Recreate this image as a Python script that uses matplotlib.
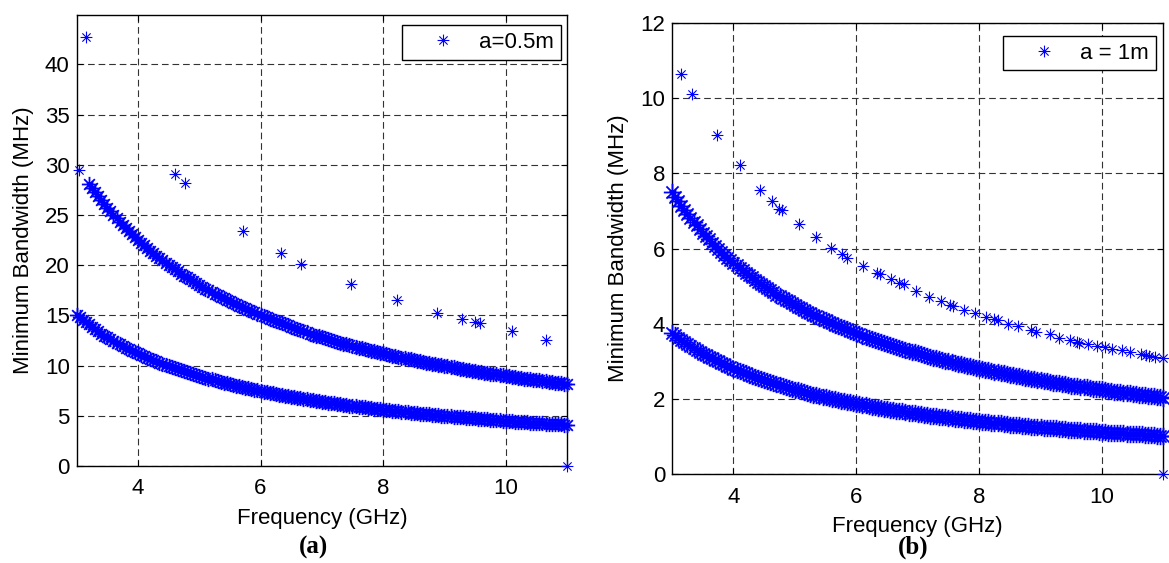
import matplotlib
matplotlib.use("Agg")
import matplotlib.pyplot as plt
from matplotlib.path import Path

# sampled frequencies (GHz) for the dense bands
freq = [3.0, 3.1, 3.2, 3.3, 3.4, 3.5, 3.6, 3.7, 3.8, 3.9,
        4.0, 4.1, 4.2, 4.3, 4.4, 4.5, 4.6, 4.7, 4.8, 4.9,
        5.0, 5.1, 5.2, 5.3, 5.4, 5.5, 5.6, 5.7, 5.8, 5.9,
        6.0, 6.1, 6.2, 6.3, 6.4, 6.5, 6.6, 6.7, 6.8, 6.9,
        7.0, 7.1, 7.2, 7.3, 7.4, 7.5, 7.6, 7.7, 7.8, 7.9,
        8.0, 8.1, 8.2, 8.3, 8.4, 8.5, 8.6, 8.7, 8.8, 8.9,
        9.0, 9.1, 9.2, 9.3, 9.4, 9.5, 9.6, 9.7, 9.8, 9.9,
        10.0, 10.1, 10.2, 10.3, 10.4, 10.5, 10.6, 10.7, 10.8, 10.9,
        11.0]
freq_mid = [3.05, 3.15, 3.25, 3.35, 3.45, 3.55, 3.65, 3.75, 3.85, 3.95,
            4.05, 4.15, 4.25, 4.35, 4.45, 4.55, 4.65, 4.75, 4.85, 4.95,
            5.05, 5.15, 5.25, 5.35, 5.45, 5.55, 5.65, 5.75, 5.85, 5.95,
            6.05, 6.15, 6.25, 6.35, 6.45, 6.55, 6.65, 6.75, 6.85, 6.95,
            7.05, 7.15, 7.25, 7.35, 7.45, 7.55, 7.65, 7.75, 7.85, 7.95,
            8.05, 8.15, 8.25, 8.35, 8.45, 8.55, 8.65, 8.75, 8.85, 8.95,
            9.05, 9.15, 9.25, 9.35, 9.45, 9.55, 9.65, 9.75, 9.85, 9.95,
            10.05, 10.15, 10.25, 10.35, 10.45, 10.55, 10.65, 10.75, 10.85, 10.95]

# (a) a = 0.5 m
bw_a_low = [15.0, 14.5, 14.1, 13.6, 13.2, 12.9, 12.5, 12.2, 11.8, 11.5,
            11.3, 11.0, 10.7, 10.5, 10.2, 10.0, 9.8, 9.6, 9.4, 9.2,
            9.0, 8.8, 8.7, 8.5, 8.3, 8.2, 8.0, 7.9, 7.8, 7.6,
            7.5, 7.4, 7.3, 7.1, 7.0, 6.9, 6.8, 6.7, 6.6, 6.5,
            6.4, 6.3, 6.25, 6.2, 6.1, 6.0, 5.9, 5.85, 5.8, 5.7,
            5.6, 5.55, 5.5, 5.4, 5.35, 5.3, 5.2, 5.2, 5.1, 5.05,
            5.0, 4.95, 4.9, 4.85, 4.8, 4.75, 4.7, 4.65, 4.6, 4.55,
            4.5, 4.45, 4.4, 4.35, 4.3, 4.3, 4.25, 4.2, 4.15, 4.15,
            4.1]
bw_a_low_mid = [14.8, 14.3, 13.8, 13.4, 13.0, 12.7, 12.3, 12.0, 11.7, 11.4,
                11.1, 10.8, 10.6, 10.3, 10.1, 9.9, 9.7, 9.5, 9.3, 9.1,
                8.9, 8.7, 8.6, 8.4, 8.3, 8.1, 8.0, 7.8, 7.7, 7.6,
                7.4, 7.3, 7.2, 7.1, 7.0, 6.9, 6.8, 6.7, 6.6, 6.5,
                6.4, 6.3, 6.2, 6.1, 6.0, 6.0, 5.9, 5.8, 5.7, 5.7,
                5.6, 5.5, 5.45, 5.4, 5.3, 5.25, 5.2, 5.15, 5.1, 5.0,
                5.0, 4.9, 4.85, 4.8, 4.75, 4.7, 4.65, 4.6, 4.55, 4.5,
                4.5, 4.4, 4.4, 4.35, 4.3, 4.25, 4.2, 4.2, 4.15, 4.1]
# upper band starts at 3.2 GHz
bw_a_up = [28.1, 27.3, 26.5, 25.7, 25.0, 24.3, 23.7, 23.1,
           22.5, 22.0, 21.4, 20.9, 20.5, 20.0, 19.6, 19.1, 18.8, 18.4,
           18.0, 17.6, 17.3, 17.0, 16.7, 16.4, 16.1, 15.8, 15.5, 15.3,
           15.0, 14.8, 14.5, 14.3, 14.1, 13.8, 13.6, 13.4, 13.2, 13.0,
           12.9, 12.7, 12.5, 12.3, 12.2, 12.0, 11.8, 11.7, 11.5, 11.4,
           11.25, 11.1, 11.0, 10.8, 10.7, 10.6, 10.5, 10.3, 10.2, 10.1,
           10.0, 9.9, 9.8, 9.7, 9.6, 9.5, 9.4, 9.3, 9.2, 9.1,
           9.0, 8.9, 8.8, 8.7, 8.65, 8.6, 8.5, 8.4, 8.3, 8.25,
           8.2]
bw_a_up_mid = [27.7, 26.9, 26.1, 25.4, 24.7, 24.0, 23.4, 22.8,
               22.2, 21.7, 21.2, 20.7, 20.2, 19.8, 19.4, 18.9, 18.6, 18.2,
               17.8, 17.5, 17.1, 16.8, 16.5, 16.2, 15.9, 15.7, 15.4, 15.1,
               14.9, 14.6, 14.4, 14.2, 14.0, 13.7, 13.5, 13.3, 13.1, 13.0,
               12.8, 12.6, 12.4, 12.2, 12.1, 11.9, 11.8, 11.6, 11.5, 11.3,
               11.2, 11.0, 10.9, 10.8, 10.65, 10.5, 10.4, 10.3, 10.2, 10.05,
               9.95, 9.85, 9.7, 9.6, 9.5, 9.4, 9.3, 9.2, 9.15, 9.05,
               8.95, 8.85, 8.8, 8.7, 8.6, 8.55, 8.45, 8.4, 8.3, 8.2]
sparse_a_f = [3.03, 3.15, 4.61, 4.77, 5.72, 6.33, 6.66, 7.47, 8.22, 8.88,
              9.29, 9.50, 9.58, 10.10, 10.65, 11.0]
sparse_a_bw = [29.5, 42.7, 29.1, 28.2, 23.4, 21.2, 20.1, 18.1, 16.5, 15.2,
               14.6, 14.3, 14.2, 13.4, 12.6, 0.0]

# (b) a = 1 m
bw_b_low = [3.75, 3.63, 3.52, 3.41, 3.31, 3.21, 3.13, 3.04, 2.96, 2.88,
            2.81, 2.74, 2.68, 2.62, 2.56, 2.50, 2.45, 2.39, 2.34, 2.30,
            2.25, 2.21, 2.16, 2.12, 2.08, 2.05, 2.01, 1.97, 1.94, 1.91,
            1.88, 1.84, 1.81, 1.79, 1.76, 1.73, 1.70, 1.68, 1.65, 1.63,
            1.61, 1.58, 1.56, 1.54, 1.52, 1.50, 1.48, 1.46, 1.44, 1.42,
            1.41, 1.39, 1.37, 1.36, 1.34, 1.32, 1.31, 1.29, 1.28, 1.26,
            1.25, 1.24, 1.22, 1.21, 1.20, 1.18, 1.17, 1.16, 1.15, 1.14,
            1.13, 1.11, 1.10, 1.09, 1.08, 1.07, 1.06, 1.05, 1.04, 1.03,
            1.02]
bw_b_low_mid = [3.69, 3.57, 3.46, 3.36, 3.26, 3.17, 3.08, 3.00, 2.92, 2.85,
                2.78, 2.71, 2.65, 2.59, 2.53, 2.47, 2.42, 2.37, 2.32, 2.27,
                2.23, 2.18, 2.14, 2.10, 2.06, 2.03, 1.99, 1.96, 1.92, 1.89,
                1.86, 1.83, 1.80, 1.77, 1.74, 1.72, 1.69, 1.67, 1.64, 1.62,
                1.60, 1.57, 1.55, 1.53, 1.51, 1.49, 1.47, 1.45, 1.43, 1.42,
                1.40, 1.38, 1.36, 1.35, 1.33, 1.32, 1.30, 1.29, 1.27, 1.26,
                1.24, 1.23, 1.22, 1.20, 1.19, 1.18, 1.17, 1.15, 1.14, 1.13,
                1.12, 1.11, 1.10, 1.09, 1.08, 1.07, 1.06, 1.05, 1.04, 1.03]
bw_b_up = [7.50, 7.26, 7.04, 6.82, 6.62, 6.42, 6.26, 6.08, 5.92, 5.76,
           5.62, 5.48, 5.36, 5.24, 5.12, 5.00, 4.90, 4.78, 4.68, 4.60,
           4.50, 4.42, 4.32, 4.24, 4.16, 4.10, 4.02, 3.94, 3.88, 3.82,
           3.76, 3.68, 3.62, 3.58, 3.52, 3.46, 3.40, 3.36, 3.30, 3.26,
           3.22, 3.16, 3.12, 3.08, 3.04, 3.00, 2.96, 2.92, 2.88, 2.84,
           2.82, 2.78, 2.74, 2.72, 2.68, 2.64, 2.62, 2.58, 2.56, 2.52,
           2.50, 2.48, 2.44, 2.42, 2.40, 2.36, 2.34, 2.32, 2.30, 2.28,
           2.26, 2.22, 2.20, 2.18, 2.16, 2.14, 2.12, 2.10, 2.08, 2.06,
           2.04]
bw_b_up_mid = [7.38, 7.14, 6.92, 6.72, 6.52, 6.34, 6.16, 6.00, 5.84, 5.70,
               5.56, 5.42, 5.29, 5.17, 5.06, 4.95, 4.84, 4.74, 4.64, 4.55,
               4.46, 4.37, 4.29, 4.21, 4.13, 4.05, 3.98, 3.91, 3.85, 3.78,
               3.72, 3.66, 3.60, 3.54, 3.49, 3.44, 3.38, 3.33, 3.29, 3.24,
               3.19, 3.15, 3.10, 3.06, 3.02, 2.98, 2.94, 2.90, 2.87, 2.83,
               2.80, 2.76, 2.73, 2.69, 2.66, 2.63, 2.60, 2.57, 2.54, 2.51,
               2.49, 2.46, 2.43, 2.41, 2.38, 2.36, 2.33, 2.31, 2.28, 2.26,
               2.24, 2.22, 2.20, 2.17, 2.15, 2.13, 2.11, 2.09, 2.07, 2.05]
sparse_b_f = [3.14, 3.32, 3.73, 4.10, 4.44, 4.63, 4.74, 4.79, 5.06, 5.35,
              5.58, 5.77, 5.85, 6.11, 6.33, 6.39, 6.57, 6.69, 6.77, 6.97,
              7.19, 7.38, 7.52, 7.57, 7.75, 7.94, 8.11, 8.25, 8.30, 8.47,
              8.63, 8.85, 8.93, 9.15, 9.30, 9.48, 9.59, 9.62, 9.77, 9.92,
              10.05, 10.16, 10.33, 10.46, 10.63, 10.71, 10.77, 10.87, 11.0, 11.0]
sparse_b_bw = [10.63, 10.11, 9.01, 8.22, 7.57, 7.26, 7.05, 7.02, 6.66, 6.31,
               6.02, 5.87, 5.75, 5.54, 5.36, 5.33, 5.19, 5.08, 5.05, 4.88,
               4.71, 4.61, 4.50, 4.48, 4.37, 4.28, 4.19, 4.12, 4.09, 3.99,
               3.93, 3.84, 3.79, 3.73, 3.62, 3.57, 3.53, 3.50, 3.47, 3.41,
               3.38, 3.34, 3.31, 3.26, 3.20, 3.17, 3.15, 3.11, 3.08, 0.0]

# matlab style asterisk: plus + shorter cross
star = Path([(-1, 0), (1, 0), (0, -1), (0, 1),
             (-0.7, -0.7), (0.7, 0.7), (-0.7, 0.7), (0.7, -0.7)],
            [Path.MOVETO, Path.LINETO] * 4)

plt.rcParams['font.family'] = ['Liberation Sans', 'DejaVu Sans']
plt.rcParams['font.size'] = 16

fig = plt.figure(figsize=(11.69, 5.63), dpi=100)
ax1 = fig.add_axes([0.0656, 0.1723, 0.4194, 0.8005])
ax2 = fig.add_axes([0.5749, 0.1576, 0.4203, 0.8016])

mk = dict(linestyle='none', marker=star, ms=8.5, mfc='none', mec='#0000ff',
          mew=0.8, clip_on=False, zorder=3)
band_a = dict(mk, ms=11, mew=1.3)
band_b = dict(mk, ms=12.5, mew=1.3)


def style_axes(ax, ylim, yticks):
    ax.set_xlim(3, 11)
    ax.set_ylim(*ylim)
    ax.set_xticks([4, 6, 8, 10])
    ax.set_yticks(yticks)
    ax.grid(True, color='0.2', linestyle=(0, (6, 3.5)), linewidth=0.8)
    ax.set_axisbelow(True)
    ax.tick_params(direction='in', top=True, right=True, length=4,
                   width=0.8, labelsize=16)
    ax.tick_params(axis='x', pad=9)
    ax.tick_params(axis='y', pad=5)
    for s in ax.spines.values():
        s.set_linewidth(1.0)
    ax.set_xlabel('Frequency (GHz)', fontsize=16, labelpad=6)
    ax.set_ylabel('Minimum Bandwidth (MHz)', fontsize=16, labelpad=8)


ax1.plot(sparse_a_f, sparse_a_bw, label='a=0.5m', **mk)
ax1.plot(freq, bw_a_low, **band_a)
ax1.plot(freq_mid, bw_a_low_mid, **band_a)
ax1.plot(freq[2:], bw_a_up, **band_a)
ax1.plot(freq_mid[2:], bw_a_up_mid, **band_a)
style_axes(ax1, (0, 44.9), [0, 5, 10, 15, 20, 25, 30, 35, 40])

ax2.plot(sparse_b_f, sparse_b_bw, label='a = 1m', **mk)
ax2.plot(freq, bw_b_low, **band_b)
ax2.plot(freq_mid, bw_b_low_mid, **band_b)
ax2.plot(freq, bw_b_up, **band_b)
ax2.plot(freq_mid, bw_b_up_mid, **band_b)
style_axes(ax2, (0, 12), [0, 2, 4, 6, 8, 10, 12])

leg_kw = dict(loc='upper right', borderaxespad=0, fancybox=False,
              edgecolor='black', framealpha=1, fontsize=16, borderpad=0.3,
              handlelength=3.1, handletextpad=0.1)
lg1 = ax1.legend(bbox_to_anchor=(1 - 6 / 490, 1 - 10 / 451), **leg_kw)
lg2 = ax2.legend(bbox_to_anchor=(1 - 7.5 / 491, 1 - 13 / 451), **leg_kw)
for lg in (lg1, lg2):
    lg.get_frame().set_linewidth(1.0)

fig.text(0.2678, 0.028, '(a)', ha='center', va='center', fontsize=18,
         fontweight='bold', family='Liberation Serif')
fig.text(0.781, 0.028, '(b)', ha='center', va='center', fontsize=18,
         fontweight='bold', family='Liberation Serif')

fig.savefig('out.png', dpi=100)
